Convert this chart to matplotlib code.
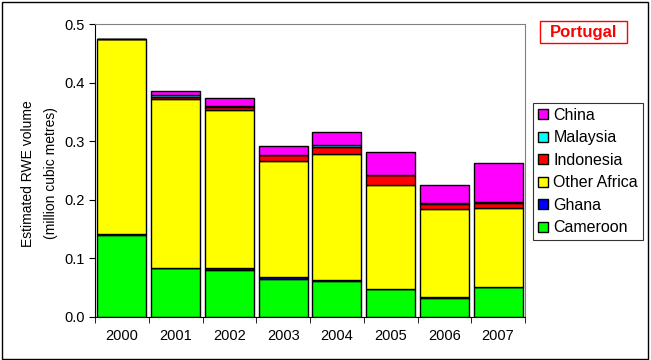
import numpy as np
import matplotlib
matplotlib.use('Agg')
import matplotlib.pyplot as plt
from matplotlib.patches import Rectangle

plt.rcParams['font.family'] = ['Liberation Sans', 'DejaVu Sans']

# ============ 数据 ============
years = ['2000', '2001', '2002', '2003', '2004', '2005', '2006', '2007']
cameroon = [0.140, 0.083, 0.081, 0.064, 0.062, 0.047, 0.033, 0.051]
ghana = [0.002, 0.001, 0.002, 0.004, 0.001, 0.001, 0.001, 0.001]
other_africa = [0.332, 0.2875, 0.2697, 0.199, 0.215, 0.1767, 0.1507, 0.1335]
indonesia = [0.0, 0.0045, 0.0053, 0.009, 0.012, 0.0173, 0.008, 0.0095]
malaysia = [0.0, 0.002, 0.0026, 0.0, 0.0035, 0.0, 0.0017, 0.002]
china = [0.0, 0.008, 0.0124, 0.015, 0.0215, 0.039, 0.0313, 0.065]

series = [
    ('Cameroon', cameroon, '#00ff00'),
    ('Ghana', ghana, '#0000ff'),
    ('Other Africa', other_africa, '#ffff00'),
    ('Indonesia', indonesia, '#ff0000'),
    ('Malaysia', malaysia, '#00ffff'),
    ('China', china, '#ff00ff'),
]

W, H = 651, 360
fig = plt.figure(figsize=(W / 100, H / 100), dpi=100)
ax = fig.add_axes([95 / W, 1 - 317 / H, 430 / W, 293 / H])

x = np.arange(len(years))
bottom = np.zeros(len(years))
handles = []
for name, vals, col in series:
    vals = np.array(vals)
    h = ax.bar(x, vals, width=0.91, bottom=bottom, color=col,
               edgecolor='black', linewidth=1.0, label=name)
    handles.append(h)
    bottom += vals

ax.set_xlim(-0.5, len(years) - 0.5)
ax.set_ylim(0, 0.5)
yt = np.arange(0, 0.51, 0.1)
ax.set_yticks(yt)
ax.set_yticklabels([f'{v:.1f}' for v in yt])
ax.set_xticks(x)
ax.set_xticklabels(years)
ax.set_xticks(np.arange(-0.5, len(years)), minor=True)
ax.tick_params(axis='x', which='major', length=0, labelsize=10.5, pad=9)
ax.tick_params(axis='x', which='minor', length=4, direction='out')
ax.tick_params(axis='y', length=4, direction='out', labelsize=10.5)

for s in ['top', 'right']:
    ax.spines[s].set_color('#808080')
for s in ['left', 'bottom']:
    ax.spines[s].set_color('black')

ax.set_ylabel('Estimated RWE volume\n(million cubic metres)', fontsize=10,
              linespacing=1.8)
ax.yaxis.set_label_coords(-37 / 430, 0.49)

# 图例：顺序反转
leg = fig.legend(handles[::-1], [s[0] for s in series][::-1],
                 loc='upper left', bbox_to_anchor=(533 / W, 1 - 103 / H),
                 frameon=True, fancybox=False, edgecolor='black',
                 fontsize=11.5, handlelength=0.62, handleheight=0.62,
                 handletextpad=0.35, labelspacing=0.47, borderpad=0.3,
                 borderaxespad=0)
leg.get_frame().set_linewidth(0.8)

# 标题框
fig.patches.append(Rectangle((540 / W, 1 - 43 / H), 87 / W, 22 / H,
                             transform=fig.transFigure, facecolor='white',
                             edgecolor='red', linewidth=1))
fig.text(583.5 / W, 1 - 32 / H, 'Portugal', color='red', fontsize=12,
         fontweight='bold', ha='center', va='center')

# 外框
fig.patches.append(Rectangle((0.003, 0.004), 0.993, 0.99, transform=fig.transFigure,
                             fill=False, edgecolor='black', linewidth=1))

plt.savefig('out.png', dpi=100)
plt.close()
